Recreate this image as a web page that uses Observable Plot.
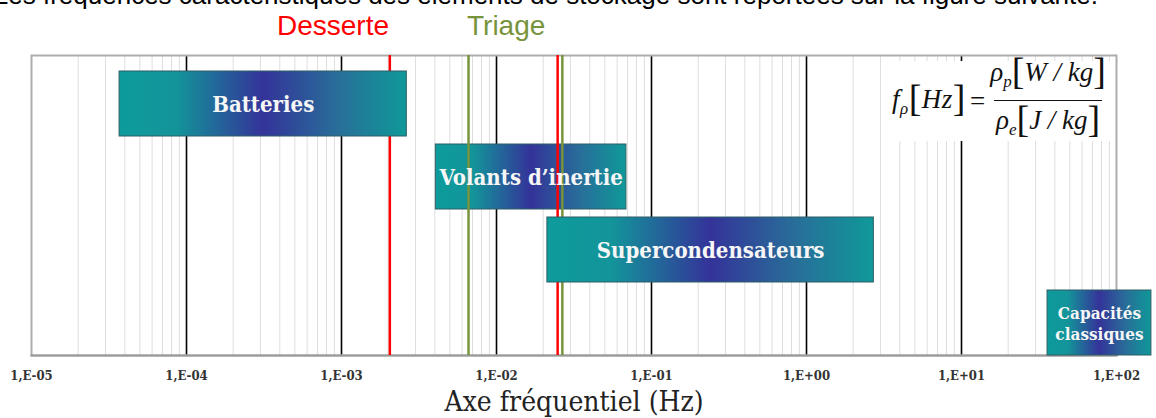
<!DOCTYPE html>
<html>
<head>
<meta charset="utf-8">
<script src="https://cdn.jsdelivr.net/npm/d3@7"></script>
<script src="https://cdn.jsdelivr.net/npm/@observablehq/plot@0.6"></script>
<style>
  html, body { margin: 0; padding: 0; background: #fff; }
  #wrap { position: relative; width: 1156px; height: 418px; overflow: hidden; background: #fff; }
  #chart { position: absolute; left: 0; top: 0; }
  .ov { position: absolute; white-space: nowrap; }
  #sentence { top: -18px; right: 58px; font: 26px "Liberation Sans", Arial, sans-serif; line-height: 26px; color: #000; }
  #desserte { left: 277px; top: 10px; font: 28px "Liberation Sans", Arial, sans-serif; color: #ff0000; line-height: 32px; }
  #triage { left: 467px; top: 10px; font: 28px "Liberation Sans", Arial, sans-serif; color: #77933c; line-height: 32px; }
  #formula { left: 882px; top: 61px; width: 232px; height: 80px; background: #fff;
    font: italic 27px "Liberation Serif", "Times New Roman", serif; color: #111;
    display: flex; align-items: center; justify-content: flex-end; box-sizing: border-box; padding-right: 6px; }
  #formula sub { font-size: 17px; vertical-align: -6px; }
  #formula .br { font-style: normal; font-size: 38px; line-height: 30px; vertical-align: -3px; }
  #formula .eq { font-style: normal; margin: 0 3px 0 2px; }
  #formula .lhs { margin-right: 2px; letter-spacing: 0.5px; }
  #formula .frac { display: inline-flex; flex-direction: column; align-items: center; }
  #formula .num { padding: 0 2px; line-height: 37px; }
  #formula .den { border-top: 1.5px solid #111; line-height: 38px; padding: 0 2px; }
</style>
</head>
<body>
<div id="wrap">
  <div id="chart"></div>
  <div class="ov" id="sentence">Les fréquences caractéristiques des éléments de stockage sont reportées sur la figure suivante.</div>
  <div class="ov" id="desserte">Desserte</div>
  <div class="ov" id="triage">Triage</div>
  <div class="ov" id="formula">
    <span class="lhs">f<sub>ρ</sub><span class="br">[</span>Hz<span class="br">]</span></span><span class="eq">=</span>
    <span class="frac">
      <span class="num">ρ<sub>p</sub><span class="br">[</span>W / kg<span class="br">]</span></span>
      <span class="den">ρ<sub>e</sub><span class="br">[</span>J / kg<span class="br">]</span></span>
    </span>
  </div>
</div>
<script>
// ---- data ----
const categories = ["Batteries", "Volants d’inertie", "Supercondensateurs", "Capacités classiques"];
const freqMin = [3.7e-5, 4.06e-3, 0.0213, 35.9];
const freqMax = [2.64e-3, 0.0689, 2.72, 168];
const barLabels = ["Batteries", "Volants d’inertie", "Supercondensateurs", "Capacités\nclassiques"];
const desserteFreqs = [2.05e-3, 0.0248];
const triageFreqs = [6.6e-3, 0.0266];
const xTickValues = [1e-5, 1e-4, 1e-3, 1e-2, 1e-1, 1e0, 1e1, 1e2];
const xTickLabels = ["1,E-05", "1,E-04", "1,E-03", "1,E-02", "1,E-01", "1,E+00", "1,E+01", "1,E+02"];
const xLabel = "Axe fréquentiel (Hz)";
const underLines = ["Volants d’inertie"]; // bars drawn beneath the vertical lines

const bars = categories.map((c, i) => ({
  cat: c, x1: freqMin[i], x2: freqMax[i], label: barLabels[i],
  mid: Math.sqrt(freqMin[i] * freqMax[i])
}));
const ticks = xTickValues.map((v, i) => ({ v, label: xTickLabels[i] }));
const minorTicks = [];
for (let e = -5; e < 2; e++) for (let m = 2; m <= 9; m++) minorTicks.push(m * Math.pow(10, e));

const serif = "'DejaVu Serif', serif";
const labelSize = c => c === "Capacités classiques" ? 17 : 22;

const chart = Plot.plot({
  width: 1156, height: 418,
  marginLeft: 31, marginRight: 40, marginTop: 55, marginBottom: 63,
  style: { background: "transparent", overflow: "visible" },
  x: { type: "log", domain: [1e-5, 1e2], axis: null },
  y: { type: "band", domain: categories, range: [71, 355], paddingInner: 0.11, paddingOuter: 0, axis: null },
  marks: [
    Plot.ruleX(minorTicks, { stroke: "#dedede", strokeWidth: 1 }),
    Plot.ruleX(xTickValues.slice(1, -1), { stroke: "#000", strokeWidth: 1.6 }),
    Plot.frame({ stroke: "#adadad", strokeWidth: 2 }),
    Plot.frame({ anchor: "bottom", stroke: "#9a9a9a", strokeWidth: 2 }),
    Plot.rectX(bars.filter(d => underLines.includes(d.cat)), {
      x1: "x1", x2: "x2", y: "cat", fill: "url(#barGrad)", stroke: "#2f5f66", strokeWidth: 1
    }),
    Plot.ruleX(desserteFreqs, { stroke: "#ff0000", strokeWidth: 2.5 }),
    Plot.ruleX(triageFreqs, { stroke: "#77933c", strokeWidth: 2.5 }),
    Plot.rectX(bars.filter(d => !underLines.includes(d.cat)), {
      x1: "x1", x2: "x2", y: "cat", fill: "url(#barGrad)", stroke: "#2f5f66", strokeWidth: 1
    }),
    Plot.text(bars, {
      x: "mid", y: "cat", text: "label", fill: "#f6f6f6", fontWeight: "bold",
      fontFamily: serif, fontSize: d => labelSize(d.cat), lineHeight: 1.2
    }),
    Plot.text(ticks, {
      x: "v", text: "label", frameAnchor: "bottom", dy: 24,
      fontFamily: serif, fontWeight: "bold", fontSize: 13, fill: "#333"
    }),
    Plot.text([xLabel], {
      frameAnchor: "bottom", dy: 55, fontFamily: serif, fontSize: 28, fill: "#222"
    })
  ]
});

// gradient definition
const svgNS = "http://www.w3.org/2000/svg";
const defs = document.createElementNS(svgNS, "defs");
const grad = document.createElementNS(svgNS, "linearGradient");
grad.setAttribute("id", "barGrad");
grad.setAttribute("x1", "0"); grad.setAttribute("x2", "1"); grad.setAttribute("y1", "0"); grad.setAttribute("y2", "0");
[[0, "#0d9b9b"], [0.2, "#13949a"], [0.5, "#343399"], [0.76, "#286e99"], [1, "#0f9999"]].forEach(([o, c]) => {
  const s = document.createElementNS(svgNS, "stop");
  s.setAttribute("offset", o); s.setAttribute("stop-color", c);
  grad.appendChild(s);
});
defs.appendChild(grad);
chart.insertBefore(defs, chart.firstChild);
chart.querySelectorAll("text").forEach(t => t.style.fontStretch = "condensed");
document.getElementById("chart").appendChild(chart);
</script>
</body>
</html>
